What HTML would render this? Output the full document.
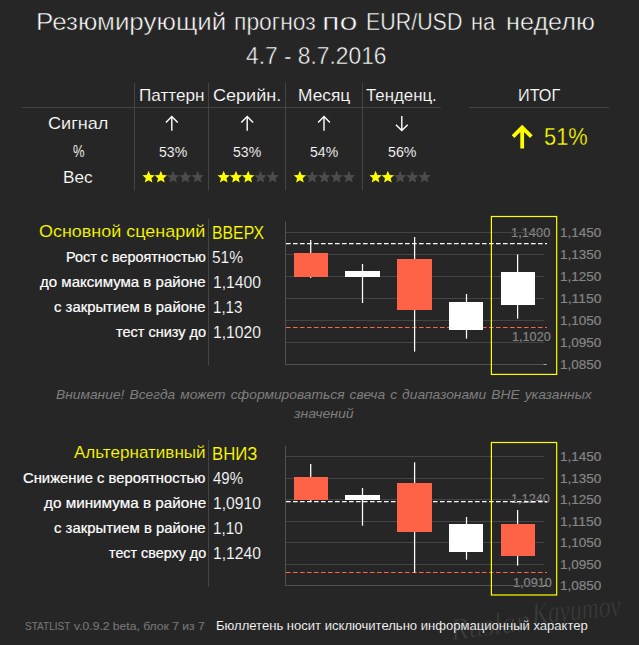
<!DOCTYPE html>
<html><head><meta charset="utf-8"><title>Forecast</title>
<style>
html,body{margin:0;padding:0;background:#262626;}
body{width:639px;height:645px;position:relative;overflow:hidden;font-family:"Liberation Sans", sans-serif;}
div{margin:0;}
span{position:absolute;z-index:2;white-space:pre;line-height:1;transform-origin:0 0;display:block;}
span.u{z-index:0;}
svg{position:absolute;left:0;top:0;z-index:1;}
</style></head><body>
<svg width="639" height="645" viewBox="0 0 639 645">
<g font-family="Liberation Serif" font-style="italic" fill="#3d3d3d" stroke="#262626" stroke-width="0.6"><text x="452" y="640" font-size="31" transform="rotate(-7 452 640)" textLength="80" lengthAdjust="spacingAndGlyphs">Ruslan</text><text x="533" y="624" font-size="31" transform="rotate(-5.5 533 624)" textLength="89" lengthAdjust="spacingAndGlyphs">Kayumov</text></g>
<rect x="22" y="107" width="418.9" height="1" fill="#444444"/>
<rect x="469" y="107" width="140.5" height="1" fill="#444444"/>
<rect x="134" y="83" width="1" height="107.5" fill="#444444"/>
<rect x="208" y="83" width="1" height="107.5" fill="#444444"/>
<rect x="285" y="83" width="1" height="107.5" fill="#444444"/>
<rect x="362" y="83" width="1" height="107.5" fill="#444444"/>
<rect x="208" y="219" width="1" height="146.8" fill="#444444"/>
<rect x="208" y="440" width="1" height="146.7" fill="#444444"/>
<path d="M171.8 130.8L171.8 116.6M165.9 122.5L171.8 116.6L177.70000000000002 122.5" fill="none" stroke="#ffffff" stroke-width="1.4" stroke-linejoin="miter" stroke-linecap="butt"/>
<path d="M247.2 130.8L247.2 116.6M241.29999999999998 122.5L247.2 116.6L253.1 122.5" fill="none" stroke="#ffffff" stroke-width="1.4" stroke-linejoin="miter" stroke-linecap="butt"/>
<path d="M324.0 130.8L324.0 116.6M318.1 122.5L324.0 116.6L329.9 122.5" fill="none" stroke="#ffffff" stroke-width="1.4" stroke-linejoin="miter" stroke-linecap="butt"/>
<path d="M401.8 116.0L401.8 130.6M395.90000000000003 124.69999999999999L401.8 130.6L407.7 124.69999999999999" fill="none" stroke="#ffffff" stroke-width="1.4" stroke-linejoin="miter" stroke-linecap="butt"/>
<path d="M522.2 148.6L522.2 127.4M513.0500000000001 136.55L522.2 127.4L531.35 136.55" fill="none" stroke="#ffff00" stroke-width="3.8" stroke-linejoin="miter" stroke-linecap="butt"/>
<polygon points="148.60,170.80 150.32,174.93 154.78,175.29 151.38,178.20 152.42,182.56 148.60,180.23 144.78,182.56 145.82,178.20 142.42,175.29 146.88,174.93" fill="#ffff00"/><polygon points="160.85,170.80 162.57,174.93 167.03,175.29 163.63,178.20 164.67,182.56 160.85,180.23 157.03,182.56 158.07,178.20 154.67,175.29 159.13,174.93" fill="#ffff00"/><polygon points="173.10,170.80 174.82,174.93 179.28,175.29 175.88,178.20 176.92,182.56 173.10,180.23 169.28,182.56 170.32,178.20 166.92,175.29 171.38,174.93" fill="#4c4c4c"/><polygon points="185.35,170.80 187.07,174.93 191.53,175.29 188.13,178.20 189.17,182.56 185.35,180.23 181.53,182.56 182.57,178.20 179.17,175.29 183.63,174.93" fill="#4c4c4c"/><polygon points="197.60,170.80 199.32,174.93 203.78,175.29 200.38,178.20 201.42,182.56 197.60,180.23 193.78,182.56 194.82,178.20 191.42,175.29 195.88,174.93" fill="#4c4c4c"/>
<polygon points="223.70,170.80 225.42,174.93 229.88,175.29 226.48,178.20 227.52,182.56 223.70,180.23 219.88,182.56 220.92,178.20 217.52,175.29 221.98,174.93" fill="#ffff00"/><polygon points="235.95,170.80 237.67,174.93 242.13,175.29 238.73,178.20 239.77,182.56 235.95,180.23 232.13,182.56 233.17,178.20 229.77,175.29 234.23,174.93" fill="#ffff00"/><polygon points="248.20,170.80 249.92,174.93 254.38,175.29 250.98,178.20 252.02,182.56 248.20,180.23 244.38,182.56 245.42,178.20 242.02,175.29 246.48,174.93" fill="#ffff00"/><polygon points="260.45,170.80 262.17,174.93 266.63,175.29 263.23,178.20 264.27,182.56 260.45,180.23 256.63,182.56 257.67,178.20 254.27,175.29 258.73,174.93" fill="#4c4c4c"/><polygon points="272.70,170.80 274.42,174.93 278.88,175.29 275.48,178.20 276.52,182.56 272.70,180.23 268.88,182.56 269.92,178.20 266.52,175.29 270.98,174.93" fill="#4c4c4c"/>
<polygon points="299.90,170.80 301.62,174.93 306.08,175.29 302.68,178.20 303.72,182.56 299.90,180.23 296.08,182.56 297.12,178.20 293.72,175.29 298.18,174.93" fill="#ffff00"/><polygon points="312.15,170.80 313.87,174.93 318.33,175.29 314.93,178.20 315.97,182.56 312.15,180.23 308.33,182.56 309.37,178.20 305.97,175.29 310.43,174.93" fill="#4c4c4c"/><polygon points="324.40,170.80 326.12,174.93 330.58,175.29 327.18,178.20 328.22,182.56 324.40,180.23 320.58,182.56 321.62,178.20 318.22,175.29 322.68,174.93" fill="#4c4c4c"/><polygon points="336.65,170.80 338.37,174.93 342.83,175.29 339.43,178.20 340.47,182.56 336.65,180.23 332.83,182.56 333.87,178.20 330.47,175.29 334.93,174.93" fill="#4c4c4c"/><polygon points="348.90,170.80 350.62,174.93 355.08,175.29 351.68,178.20 352.72,182.56 348.90,180.23 345.08,182.56 346.12,178.20 342.72,175.29 347.18,174.93" fill="#4c4c4c"/>
<polygon points="375.60,170.80 377.32,174.93 381.78,175.29 378.38,178.20 379.42,182.56 375.60,180.23 371.78,182.56 372.82,178.20 369.42,175.29 373.88,174.93" fill="#ffff00"/><polygon points="387.85,170.80 389.57,174.93 394.03,175.29 390.63,178.20 391.67,182.56 387.85,180.23 384.03,182.56 385.07,178.20 381.67,175.29 386.13,174.93" fill="#ffff00"/><polygon points="400.10,170.80 401.82,174.93 406.28,175.29 402.88,178.20 403.92,182.56 400.10,180.23 396.28,182.56 397.32,178.20 393.92,175.29 398.38,174.93" fill="#4c4c4c"/><polygon points="412.35,170.80 414.07,174.93 418.53,175.29 415.13,178.20 416.17,182.56 412.35,180.23 408.53,182.56 409.57,178.20 406.17,175.29 410.63,174.93" fill="#4c4c4c"/><polygon points="424.60,170.80 426.32,174.93 430.78,175.29 427.38,178.20 428.42,182.56 424.60,180.23 420.78,182.56 421.82,178.20 418.42,175.29 422.88,174.93" fill="#4c4c4c"/>
<rect x="286" y="232" width="258" height="1" fill="#444444"/><rect x="286" y="254" width="258" height="1" fill="#444444"/><rect x="286" y="276" width="258" height="1" fill="#444444"/><rect x="286" y="298" width="258" height="1" fill="#444444"/><rect x="286" y="320" width="258" height="1" fill="#444444"/><rect x="286" y="342" width="258" height="1" fill="#444444"/><rect x="286" y="364" width="258" height="1" fill="#505050"/><rect x="285" y="221.4" width="1" height="143.6" fill="#505050"/><rect x="543.5" y="364" width="3.3" height="1" fill="#a0a0a0"/><path d="M286 243.5H547" stroke="#fff" stroke-width="1.25" stroke-dasharray="4.6 2.4" fill="none"/><path d="M286 327.5H547" stroke="#ff6347" stroke-width="1.15" stroke-dasharray="4.6 2.4" fill="none"/><rect x="310.08" y="240" width="1.25" height="38.00" fill="#fff"/><rect x="294" y="253" width="34" height="24" fill="#ff6347"/><rect x="361.88" y="264" width="1.25" height="39.00" fill="#fff"/><rect x="345" y="271" width="35" height="6" fill="#fff"/><rect x="413.98" y="237" width="1.25" height="114.60" fill="#fff"/><rect x="397" y="259" width="35" height="51" fill="#ff6347"/><rect x="465.88" y="294" width="1.25" height="44.60" fill="#fff"/><rect x="449" y="302" width="34" height="28" fill="#fff"/><rect x="516.98" y="254.5" width="1.25" height="64.20" fill="#fff"/><rect x="501" y="272" width="34" height="33" fill="#fff"/><rect x="491.4" y="216.5" width="65.3" height="157.89999999999998" fill="none" stroke="#ffff00" stroke-width="1.2"/>
<rect x="286" y="456" width="258" height="1" fill="#444444"/><rect x="286" y="478" width="258" height="1" fill="#444444"/><rect x="286" y="499" width="258" height="1" fill="#444444"/><rect x="286" y="521" width="258" height="1" fill="#444444"/><rect x="286" y="542" width="258" height="1" fill="#444444"/><rect x="286" y="564" width="258" height="1" fill="#444444"/><rect x="286" y="585" width="258" height="1" fill="#505050"/><rect x="285" y="446.0" width="1" height="140.0" fill="#505050"/><rect x="543.5" y="585" width="3.3" height="1" fill="#a0a0a0"/><path d="M286 501.5H547" stroke="#fff" stroke-width="1.25" stroke-dasharray="4.6 2.4" fill="none"/><path d="M286 572.5H547" stroke="#ff6347" stroke-width="1.15" stroke-dasharray="4.6 2.4" fill="none"/><rect x="310.08" y="464" width="1.25" height="37.50" fill="#fff"/><rect x="294" y="477" width="34" height="23" fill="#ff6347"/><rect x="361.88" y="488" width="1.25" height="37.70" fill="#fff"/><rect x="345" y="495" width="35" height="5" fill="#fff"/><rect x="413.98" y="462.3" width="1.25" height="110.40" fill="#fff"/><rect x="397" y="483" width="35" height="49" fill="#ff6347"/><rect x="465.88" y="517" width="1.25" height="42.70" fill="#fff"/><rect x="449" y="524" width="34" height="28" fill="#fff"/><rect x="516.98" y="510" width="1.25" height="55.60" fill="#fff"/><rect x="501" y="524" width="34" height="32" fill="#ff6347"/><rect x="491.4" y="442.5" width="65.3" height="152.5" fill="none" stroke="#ffff00" stroke-width="1.2"/>
</svg>
<div><span style="left:36.41px;top:11.00px;-webkit-text-stroke:0.5px #262626;font-size:23.7px;color:#fff;transform:scaleX(1.0947)">Резюмирующий</span>
<span style="left:234.23px;top:11.00px;-webkit-text-stroke:0.5px #262626;font-size:23.7px;color:#fff;transform:scaleX(0.9663)">прогноз</span>
<span style="left:322.13px;top:11.00px;-webkit-text-stroke:0.5px #262626;font-size:23.7px;color:#fff;transform:scaleX(1.3667)">по</span>
<span style="left:366.19px;top:11.00px;-webkit-text-stroke:0.5px #262626;font-size:23.7px;color:#fff;transform:scaleX(0.9038)">EUR/USD</span>
<span style="left:471.38px;top:11.00px;-webkit-text-stroke:0.5px #262626;font-size:23.7px;color:#fff;transform:scaleX(0.9192)">на</span>
<span style="left:505.54px;top:11.00px;-webkit-text-stroke:0.5px #262626;font-size:23.7px;color:#fff;transform:scaleX(1.0646)">неделю</span></div>
<span style="left:245.50px;top:45.00px;-webkit-text-stroke:0.5px #262626;font-size:23.7px;color:#fff;transform:scaleX(0.9610)">4.7 - 8.7.2016</span>
<span style="left:138.77px;top:88.00px;-webkit-text-stroke:0.15px #262626;font-size:16.6px;color:#fff;transform:scaleX(1.0323)">Паттерн</span>
<span style="left:212.81px;top:88.00px;-webkit-text-stroke:0.15px #262626;font-size:16.6px;color:#fff;transform:scaleX(1.0869)">Серийн.</span>
<span style="left:297.76px;top:88.00px;-webkit-text-stroke:0.15px #262626;font-size:16.6px;color:#fff;transform:scaleX(1.0449)">Месяц</span>
<span style="left:366.30px;top:88.00px;-webkit-text-stroke:0.15px #262626;font-size:16.6px;color:#fff;transform:scaleX(1.0145)">Тенденц.</span>
<span style="left:518.42px;top:88.00px;-webkit-text-stroke:0.15px #262626;font-size:16.6px;color:#fff;transform:scaleX(0.9786)">ИТОГ</span>
<span style="left:48.31px;top:116.00px;-webkit-text-stroke:0.15px #262626;font-size:16.6px;color:#fff;transform:scaleX(1.0907)">Сигнал</span>
<span style="left:73.30px;top:144.00px;-webkit-text-stroke:0.15px #262626;font-size:16.6px;color:#fff;transform:scaleX(0.7800)">%</span>
<span style="left:63.46px;top:170.00px;-webkit-text-stroke:0.15px #262626;font-size:16.6px;color:#fff;transform:scaleX(1.0370)">Вес</span>
<span style="left:158.64px;top:145.00px;-webkit-text-stroke:0.12px #262626;font-size:14.6px;color:#fff;transform:scaleX(0.9643)">53%</span>
<span style="left:233.14px;top:145.00px;-webkit-text-stroke:0.12px #262626;font-size:14.6px;color:#fff;transform:scaleX(0.9643)">53%</span>
<span style="left:309.84px;top:145.00px;-webkit-text-stroke:0.12px #262626;font-size:14.6px;color:#fff;transform:scaleX(0.9643)">54%</span>
<span style="left:388.13px;top:145.00px;-webkit-text-stroke:0.12px #262626;font-size:14.6px;color:#fff;transform:scaleX(0.9714)">56%</span>
<span style="left:543.99px;top:125.00px;-webkit-text-stroke:0.3px #262626;font-size:24px;color:#ffff00;transform:scaleX(0.9085)">51%</span>
<span style="left:38.80px;top:224.00px;-webkit-text-stroke:0.15px #262626;font-size:16.6px;color:#ffff00;transform:scaleX(1.0817)">Основной сценарий</span>
<span style="left:211.92px;top:224.00px;-webkit-text-stroke:0.15px #262626;font-size:18px;color:#ffff00;transform:scaleX(0.8793)">ВВЕРХ</span>
<span style="left:65.79px;top:250.00px;-webkit-text-stroke:0.2px #fff;font-size:14.3px;color:#fff;transform:scaleX(1.0058)">Рост с вероятностью</span>
<span style="left:40.00px;top:275.00px;-webkit-text-stroke:0.2px #fff;font-size:14.3px;color:#fff;transform:scaleX(1.0513)">до максимума в районе</span>
<span style="left:54.30px;top:300.00px;-webkit-text-stroke:0.2px #fff;font-size:14.3px;color:#fff;transform:scaleX(1.0397)">с закрытием в районе</span>
<span style="left:115.80px;top:325.00px;-webkit-text-stroke:0.2px #fff;font-size:14.3px;color:#fff;transform:scaleX(1.0146)">тест снизу до</span>
<span style="left:211.52px;top:250.00px;-webkit-text-stroke:0.15px #262626;font-size:15.8px;color:#fff;transform:scaleX(0.9800)">51%</span>
<span style="left:213.21px;top:275.00px;-webkit-text-stroke:0.15px #262626;font-size:15.8px;color:#fff;transform:scaleX(0.9936)">1,1400</span>
<span style="left:213.25px;top:300.00px;-webkit-text-stroke:0.15px #262626;font-size:15.8px;color:#fff;transform:scaleX(0.9533)">1,13</span>
<span style="left:213.21px;top:325.00px;-webkit-text-stroke:0.15px #262626;font-size:15.8px;color:#fff;transform:scaleX(0.9936)">1,1020</span>
<span style="left:55.50px;top:388.00px;font-size:13px;color:#7f7f7f;font-style:italic;word-spacing:1.14px;transform:scaleX(1.0618)">Внимание! Всегда может сформироваться свеча с диапазонами ВНЕ указанных</span>
<span style="left:293.80px;top:407.00px;font-size:13px;color:#7f7f7f;font-style:italic;transform:scaleX(1.0818)">значений</span>
<span style="left:73.80px;top:445.00px;-webkit-text-stroke:0.15px #262626;font-size:16.6px;color:#ffff00;transform:scaleX(1.0276)">Альтернативный</span>
<span style="left:211.87px;top:445.00px;-webkit-text-stroke:0.15px #262626;font-size:18px;color:#ffff00;transform:scaleX(0.9298)">ВНИЗ</span>
<span style="left:23.30px;top:471.00px;-webkit-text-stroke:0.2px #fff;font-size:14.3px;color:#fff;transform:scaleX(1.0358)">Снижение с вероятностью</span>
<span style="left:43.80px;top:496.00px;-webkit-text-stroke:0.2px #fff;font-size:14.3px;color:#fff;transform:scaleX(1.0678)">до минимума в районе</span>
<span style="left:54.10px;top:521.00px;-webkit-text-stroke:0.2px #fff;font-size:14.3px;color:#fff;transform:scaleX(1.0411)">с закрытием в районе</span>
<span style="left:108.90px;top:546.00px;-webkit-text-stroke:0.2px #fff;font-size:14.3px;color:#fff;transform:scaleX(1.0021)">тест сверху до</span>
<span style="left:212.50px;top:471.00px;-webkit-text-stroke:0.15px #262626;font-size:15.8px;color:#fff;transform:scaleX(0.9484)">49%</span>
<span style="left:213.21px;top:496.00px;-webkit-text-stroke:0.15px #262626;font-size:15.8px;color:#fff;transform:scaleX(0.9936)">1,0910</span>
<span style="left:213.24px;top:521.00px;-webkit-text-stroke:0.15px #262626;font-size:15.8px;color:#fff;transform:scaleX(0.9633)">1,10</span>
<span style="left:213.21px;top:546.00px;-webkit-text-stroke:0.15px #262626;font-size:15.8px;color:#fff;transform:scaleX(0.9936)">1,1240</span>
<span style="left:559.92px;top:227.00px;-webkit-text-stroke:0.2px #858585;font-size:12.5px;color:#858585;transform:scaleX(1.0811)">1,1450</span>
<span style="left:559.92px;top:451.00px;-webkit-text-stroke:0.2px #858585;font-size:12.5px;color:#858585;transform:scaleX(1.0811)">1,1450</span>
<span style="left:559.92px;top:249.00px;-webkit-text-stroke:0.2px #858585;font-size:12.5px;color:#858585;transform:scaleX(1.0811)">1,1350</span>
<span style="left:559.92px;top:473.00px;-webkit-text-stroke:0.2px #858585;font-size:12.5px;color:#858585;transform:scaleX(1.0811)">1,1350</span>
<span style="left:559.92px;top:271.00px;-webkit-text-stroke:0.2px #858585;font-size:12.5px;color:#858585;transform:scaleX(1.0811)">1,1250</span>
<span style="left:559.92px;top:494.00px;-webkit-text-stroke:0.2px #858585;font-size:12.5px;color:#858585;transform:scaleX(1.0811)">1,1250</span>
<span style="left:559.89px;top:293.00px;-webkit-text-stroke:0.2px #858585;font-size:12.5px;color:#858585;transform:scaleX(1.1111)">1,1150</span>
<span style="left:559.89px;top:516.00px;-webkit-text-stroke:0.2px #858585;font-size:12.5px;color:#858585;transform:scaleX(1.1111)">1,1150</span>
<span style="left:559.92px;top:315.00px;-webkit-text-stroke:0.2px #858585;font-size:12.5px;color:#858585;transform:scaleX(1.0811)">1,1050</span>
<span style="left:559.92px;top:537.00px;-webkit-text-stroke:0.2px #858585;font-size:12.5px;color:#858585;transform:scaleX(1.0811)">1,1050</span>
<span style="left:559.92px;top:337.00px;-webkit-text-stroke:0.2px #858585;font-size:12.5px;color:#858585;transform:scaleX(1.0811)">1,0950</span>
<span style="left:559.92px;top:559.00px;-webkit-text-stroke:0.2px #858585;font-size:12.5px;color:#858585;transform:scaleX(1.0811)">1,0950</span>
<span style="left:559.92px;top:359.00px;-webkit-text-stroke:0.2px #858585;font-size:12.5px;color:#858585;transform:scaleX(1.0811)">1,0850</span>
<span style="left:559.92px;top:580.00px;-webkit-text-stroke:0.2px #858585;font-size:12.5px;color:#858585;transform:scaleX(1.0811)">1,0850</span>
<span class="u" style="left:510.97px;top:227.00px;-webkit-text-stroke:0.2px #858585;font-size:12.5px;color:#858585;transform:scaleX(1.0270)">1,1400</span>
<span class="u" style="left:511.99px;top:331.00px;-webkit-text-stroke:0.2px #858585;font-size:12.5px;color:#858585;transform:scaleX(1.0135)">1,1020</span>
<span class="u" style="left:511.28px;top:493.00px;-webkit-text-stroke:0.2px #858585;font-size:12.5px;color:#858585;transform:scaleX(1.0189)">1,1240</span>
<span class="u" style="left:512.78px;top:577.00px;-webkit-text-stroke:0.2px #858585;font-size:12.5px;color:#858585;transform:scaleX(1.0189)">1,0910</span>
<div><span style="left:25.00px;top:620.00px;-webkit-text-stroke:0.15px #757575;font-size:11.6px;color:#757575;transform:scaleX(0.8654)">STATLIST</span>
<span style="left:74.30px;top:620.00px;-webkit-text-stroke:0.15px #757575;font-size:11.6px;color:#757575;transform:scaleX(1.0456)">v.0.9.2 beta, блок 7 из 7</span></div>
<span style="left:216.43px;top:620.00px;-webkit-text-stroke:0.1px #262626;font-size:12.2px;color:#fff;transform:scaleX(1.0708)">Бюллетень носит исключительно информационный характер</span>
</body></html>
